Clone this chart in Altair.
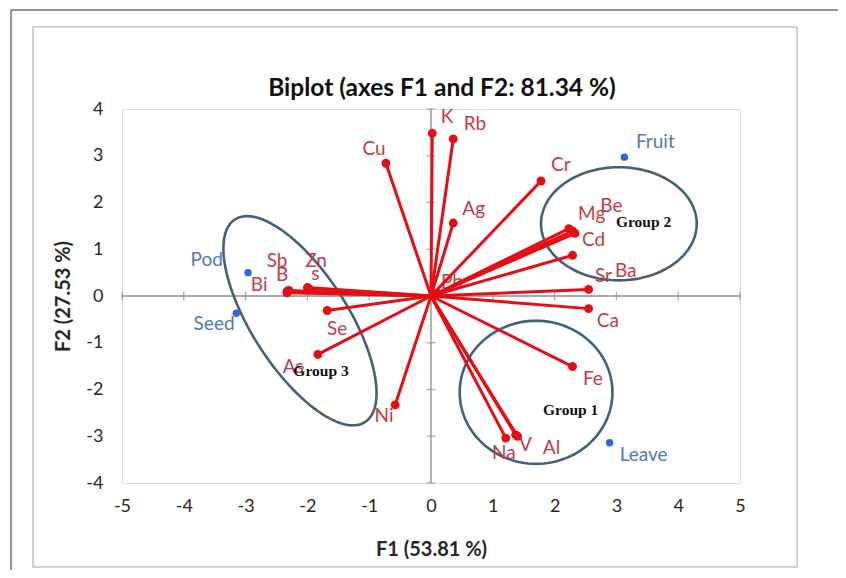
import altair as alt
import pandas as pd
import numpy as np

# ---------------- data ----------------
chart_title = "Biplot (axes F1 and F2: 81.34 %)"
var_names = ["K", "Rb", "Cu", "Cr", "Ag", "Mg", "Be", "Cd", "Sr", "Ba", "Ca", "Pb",
             "Fe", "Na", "V", "Al", "Ni", "As", "Se", "B", "Sb", "Zn", "s", "Bi"]
var_f1 = [0.02, 0.36, -0.73, 1.78, 0.36, 2.23, 2.29, 2.33, 2.29, 2.55, 2.55, 0.10,
          2.29, 1.21, 1.37, 1.40, -0.58, -1.83, -1.68, -2.33, -2.30, -2.00, -1.98, -2.33]
var_f2 = [3.48, 3.36, 2.84, 2.46, 1.56, 1.44, 1.39, 1.34, 0.87, 0.14, -0.27, 0.06,
          -1.51, -3.04, -2.97, -3.00, -2.33, -1.25, -0.31, 0.10, 0.12, 0.18, 0.16, 0.07]
var_lab_f1 = [0.26, 0.71, -0.92, 2.10, 0.69, 2.60, 2.92, 2.63, 2.79, 3.15, 2.86, 0.34,
              2.62, 1.18, 1.53, 1.95, -0.76, -2.23, -1.52, -2.41, -2.49, -1.86, -1.87, -2.78]
var_lab_f2 = [3.83, 3.68, 3.14, 2.80, 1.86, 1.75, 1.92, 1.19, 0.42, 0.53, -0.53, 0.29,
              -1.77, -3.36, -3.19, -3.25, -2.56, -1.51, -0.70, 0.44, 0.74, 0.74, 0.48, 0.23]

obs_names = ["Pod", "Seed", "Fruit", "Leave"]
obs_f1 = [-2.96, -3.15, 3.13, 2.89]
obs_f2 = [0.50, -0.37, 2.97, -3.14]
obs_lab_f1 = [-3.63, -3.51, 3.63, 3.44]
obs_lab_f2 = [0.76, -0.59, 3.29, -3.40]

grp_names = ["Group 1", "Group 2", "Group 3"]
grp_lab_f1 = [2.26, 3.44, -1.78]
grp_lab_f2 = [-2.44, 1.58, -1.60]
# ellipse: centre and two conjugate semi-axis vectors (data units)
grp_cx = [1.70, 3.04, -2.12]
grp_cy = [-2.06, 1.545, -0.53]
grp_ux = [1.236, 1.26, -1.055]
grp_uy = [0.0, 0.0, 2.165]
grp_vx = [0.0, 0.0, 0.65]
grp_vy = [1.53, 1.21, 0.565]

x_ticks = list(range(-5, 6))
y_ticks = list(range(-4, 5))

# ---------------- tables ----------------
vars_df = pd.DataFrame({"name": var_names, "f1": var_f1, "f2": var_f2,
                        "lx": var_lab_f1, "ly": var_lab_f2, "o1": 0.0, "o2": 0.0})
obs_df = pd.DataFrame({"name": obs_names, "f1": obs_f1, "f2": obs_f2,
                       "lx": obs_lab_f1, "ly": obs_lab_f2})
grp_df = pd.DataFrame({"name": grp_names, "lx": grp_lab_f1, "ly": grp_lab_f2})

rows = []
ts = np.linspace(0, 2 * np.pi, 121)
for g in range(3):
    for i, t in enumerate(ts):
        rows.append({"g": grp_names[g], "i": i,
                     "x": grp_cx[g] + np.cos(t) * grp_ux[g] + np.sin(t) * grp_vx[g],
                     "y": grp_cy[g] + np.cos(t) * grp_uy[g] + np.sin(t) * grp_vy[g]})
ell_df = pd.DataFrame(rows)

xt_df = pd.DataFrame({"v": x_ticks, "z": 0.0})
yt_df = pd.DataFrame({"v": y_ticks, "z": 0.0})
axl_df = pd.DataFrame({"x1": [-5.0, 0.0], "x2": [5.0, 0.0], "y1": [0.0, -4.0], "y2": [0.0, 4.0]})
one = pd.DataFrame({"a": [0]})
title_df = pd.DataFrame({"t": [chart_title]})

FONT = "Lato"
W, H = 618, 374
xs = alt.Scale(domain=[-5, 5], nice=False, zero=False)
ys = alt.Scale(domain=[-4, 4], nice=False, zero=False)

lab_expr = "datum.value < 0 ? '-' + abs(datum.value) : '' + datum.value"

x_axis = alt.Axis(values=x_ticks, title="F1 (53.81 %)", domain=False, ticks=False, grid=False,
                  labelPadding=14, labelFontSize=18, labelFont=FONT, labelColor="#262626",
                  labelFlush=False, labelOverlap=False, labelExpr=lab_expr,
                  titleFont=FONT, titleFontSize=20, titleFontWeight="bold", titleColor="#262626",
                  titleY=72, titleBaseline="alphabetic")
y_axis = alt.Axis(values=y_ticks, title="F2 (27.53 %)", domain=False, ticks=False, grid=False,
                  labelPadding=19, labelFontSize=18, labelFont=FONT, labelColor="#262626",
                  labelFlush=False, labelOverlap=False, labelExpr=lab_expr,
                  titleFont=FONT, titleFontSize=20, titleFontWeight="bold", titleColor="#262626",
                  titleX=-53, titleY=H / 2, titleBaseline="alphabetic", titleAngle=-90)

frame_inner = alt.Chart(one).mark_rect(fillOpacity=0, stroke="#C4C4C4", strokeWidth=1.5).encode(
    x=alt.value(-89), x2=alt.value(675), y=alt.value(-82), y2=alt.value(458))
frame_left = alt.Chart(one).mark_rule(color="#707070", strokeWidth=1.5).encode(
    x=alt.value(-111), y=alt.value(-99), y2=alt.value(469))
frame_top = alt.Chart(one).mark_rule(color="#707070", strokeWidth=1.5).encode(
    x=alt.value(-111), x2=alt.value(716), y=alt.value(-99))

title_mark = alt.Chart(title_df).mark_text(font=FONT, fontSize=24.5, fontWeight="bold", color="#111111",
                                          baseline="alphabetic", align="center").encode(
    x=alt.value(W / 2 + 11), y=alt.value(-13), text="t:N")

axis_lines = alt.Chart(axl_df).mark_rule(color="#8C8C8C", strokeWidth=1.3).encode(
    x=alt.X("x1:Q", scale=xs, axis=x_axis), x2="x2:Q",
    y=alt.Y("y1:Q", scale=ys, axis=y_axis), y2="y2:Q")
xticks = alt.Chart(xt_df).mark_tick(orient="vertical", size=9, thickness=1.3, color="#8C8C8C").encode(
    x=alt.X("v:Q", scale=xs), y=alt.Y("z:Q", scale=ys))
yticks = alt.Chart(yt_df).mark_tick(orient="horizontal", size=9, thickness=1.3, color="#8C8C8C").encode(
    x=alt.X("z:Q", scale=xs), y=alt.Y("v:Q", scale=ys))

ellipses = alt.Chart(ell_df).mark_line(color="#44617B", strokeWidth=2.6).encode(
    x=alt.X("x:Q", scale=xs), y=alt.Y("y:Q", scale=ys), detail="g:N", order="i:Q")

var_labels = alt.Chart(vars_df).mark_text(font=FONT, fontSize=19, color="#C23B45").encode(
    x=alt.X("lx:Q", scale=xs), y=alt.Y("ly:Q", scale=ys), text="name:N")
vectors = alt.Chart(vars_df).mark_rule(color="#E50E14", strokeWidth=3).encode(
    x=alt.X("o1:Q", scale=xs), y=alt.Y("o2:Q", scale=ys), x2="f1:Q", y2="f2:Q")
var_pts = alt.Chart(vars_df).mark_circle(color="#E50E14", size=80, opacity=1).encode(
    x=alt.X("f1:Q", scale=xs), y=alt.Y("f2:Q", scale=ys))

obs_pts = alt.Chart(obs_df).mark_circle(color="#3564DA", size=55, opacity=1).encode(
    x=alt.X("f1:Q", scale=xs), y=alt.Y("f2:Q", scale=ys))
obs_labels = alt.Chart(obs_df).mark_text(font=FONT, fontSize=19, color="#5078B8").encode(
    x=alt.X("lx:Q", scale=xs), y=alt.Y("ly:Q", scale=ys), text="name:N")

grp_labels = alt.Chart(grp_df).mark_text(font="Liberation Serif", fontSize=15.5, fontWeight="bold",
                                         color="#111111").encode(
    x=alt.X("lx:Q", scale=xs), y=alt.Y("ly:Q", scale=ys), text="name:N")

chart = alt.layer(
    frame_inner, frame_left, frame_top, title_mark, axis_lines, xticks, yticks, ellipses,
    var_labels, vectors, var_pts, obs_pts, obs_labels, grp_labels
).properties(
    width=W, height=H,
    padding={"left": 114, "top": 101, "right": 98, "bottom": 87},
    autosize=alt.AutoSizeParams(type="none"),
).configure_view(stroke="#A6A6A6", strokeWidth=2).configure(background="white")

chart.save("out.html", embed_options={"renderer": "svg", "actions": False})
